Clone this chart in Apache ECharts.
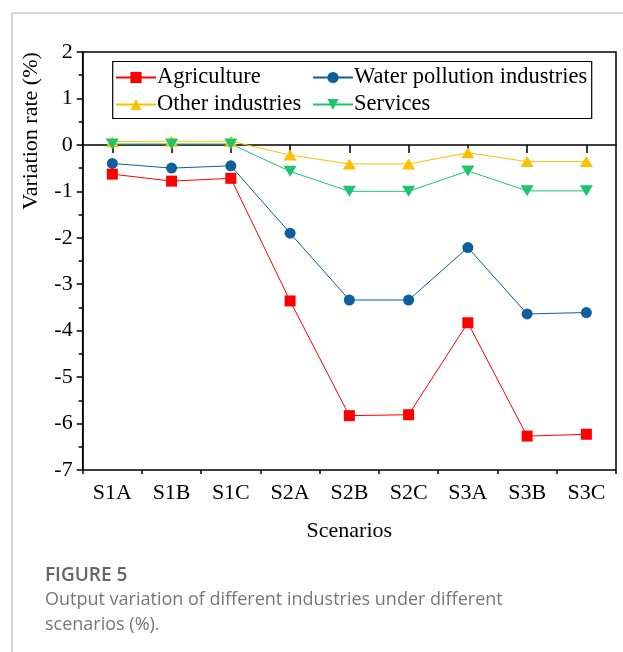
<!DOCTYPE html>
<html>
<head>
<meta charset="utf-8">
<script src="https://cdn.jsdelivr.net/npm/echarts@6/dist/echarts.min.js"></script>
<style>
html,body{margin:0;padding:0;background:#fff;}
#chart{width:623px;height:652px;}
</style>
</head>
<body>
<div id="chart"></div>
<script>
const categories = ['S1A','S1B','S1C','S2A','S2B','S2C','S3A','S3B','S3C'];
const agriculture = [-0.63, -0.78, -0.72, -3.36, -5.83, -5.81, -3.83, -6.27, -6.23];
const waterPollution = [-0.40, -0.50, -0.45, -1.90, -3.34, -3.34, -2.21, -3.64, -3.61];
const otherIndustries = [0.07, 0.08, 0.08, -0.22, -0.41, -0.41, -0.17, -0.36, -0.36];
const services = [0.02, 0.02, 0.02, -0.57, -1.00, -1.00, -0.56, -0.99, -0.99];
const seriesNames = ['Agriculture','Water pollution industries','Other industries','Services'];
const yTicks = {min: -7, max: 2, interval: 1};

const SERIF = '"Liberation Serif","Times New Roman",serif';
const chart = echarts.init(document.getElementById('chart'), null, {renderer:'canvas'});

const downTri = 'path://M0,0 L10,0 L5,9 Z';

function legendAt(name, left, top){
  return {
    data:[name], left:left, top:top, orient:'horizontal', padding:0,
    itemWidth:40, itemHeight:14, itemGap:0,
    textStyle:{fontFamily:SERIF, fontSize:22.5, color:'#000', padding:[0,0,0,-4]},
    selectedMode:false
  };
}

const option = {
  backgroundColor:'#fff',
  animation:false,
  grid:{left:82.7, right:7, top:52, bottom:182, show:true, borderColor:'#000', borderWidth:1.5, backgroundColor:'transparent'},
  legend:[
    legendAt(seriesNames[0], 115, 66),
    legendAt(seriesNames[1], 312, 66),
    legendAt(seriesNames[2], 115, 93),
    legendAt(seriesNames[3], 312, 93)
  ],
  xAxis:[{
    type:'category', data:categories, boundaryGap:true, position:'bottom',
    name:'Scenarios', nameLocation:'middle', nameGap:50,
    nameTextStyle:{fontFamily:SERIF, fontSize:22, color:'#000'},
    axisLine:{show:true, lineStyle:{color:'#000', width:1.5}},
    axisTick:{show:true, alignWithLabel:true, length:8, inside:false, lineStyle:{color:'#000', width:1.5}},
    axisLabel:{fontFamily:SERIF, fontSize:22, color:'#000', margin:12},
    splitLine:{show:false}
  },{
    type:'category', data:categories, boundaryGap:true, position:'bottom',
    axisLine:{show:false},
    axisTick:{show:true, alignWithLabel:false, length:4, lineStyle:{color:'#000', width:1.5}},
    axisLabel:{show:false},
    splitLine:{show:false}
  }],
  yAxis:{
    type:'value', min:yTicks.min, max:yTicks.max, interval:yTicks.interval,
    axisLine:{show:true, lineStyle:{color:'#000', width:1.5}},
    axisTick:{show:true, length:6, lineStyle:{color:'#000', width:1.5}},
    minorTick:{show:true, splitNumber:2, length:4, lineStyle:{color:'#000', width:1.5}},
    axisLabel:{fontFamily:SERIF, fontSize:22, color:'#000', margin:10},
    splitLine:{show:false}
  },
  series:[
    {name:seriesNames[0], type:'line', data:agriculture, symbol:'rect', symbolSize:11,
     itemStyle:{color:'#ff0000'}, lineStyle:{color:'#ff0000', width:1}, z:5},
    {name:seriesNames[1], type:'line', data:waterPollution, symbol:'circle', symbolSize:11,
     itemStyle:{color:'#0e5f9b'}, lineStyle:{color:'#0e5f9b', width:1}, z:4},
    {name:seriesNames[2], type:'line', data:otherIndustries, symbol:'triangle', symbolSize:[13,11],
     itemStyle:{color:'#ffc000'}, lineStyle:{color:'#ffc000', width:1}, z:3},
    {name:seriesNames[3], type:'line', data:services, symbol:downTri, symbolSize:[13,11],
     itemStyle:{color:'#1ec46e'}, lineStyle:{color:'#1ec46e', width:1}, z:3}
  ],
  graphic:[
    {type:'line', shape:{x1:12, y1:13, x2:623, y2:13}, style:{stroke:'#c8c8c8', lineWidth:1.5}, silent:true},
    {type:'line', shape:{x1:12, y1:13, x2:12, y2:652}, style:{stroke:'#c8c8c8', lineWidth:1.5}, silent:true},
    {type:'rect', shape:{x:112.7, y:61.5, width:479, height:57}, style:{fill:'none', stroke:'#000', lineWidth:1.2}, silent:true, z:10},
    {type:'text', x:31, y:131, rotation:Math.PI/2,
     style:{text:'Variation rate (%)', font:'22px "Liberation Serif","Times New Roman",serif', fill:'#000', textAlign:'center', textVerticalAlign:'middle'}},
    {type:'text', x:45, y:576,
     style:{text:'FIGURE 5', font:'600 19px "Open Sans",sans-serif', fill:'#666', textAlign:'left', textVerticalAlign:'middle'}},
    {type:'text', x:45, y:600,
     style:{text:'Output variation of different industries under different', font:'18px "Open Sans",sans-serif', fill:'#777', textAlign:'left', textVerticalAlign:'middle'}},
    {type:'text', x:45, y:625,
     style:{text:'scenarios (%).', font:'18px "Open Sans",sans-serif', fill:'#777', textAlign:'left', textVerticalAlign:'middle'}}
  ]
};
chart.setOption(option);
</script>
</body>
</html>
